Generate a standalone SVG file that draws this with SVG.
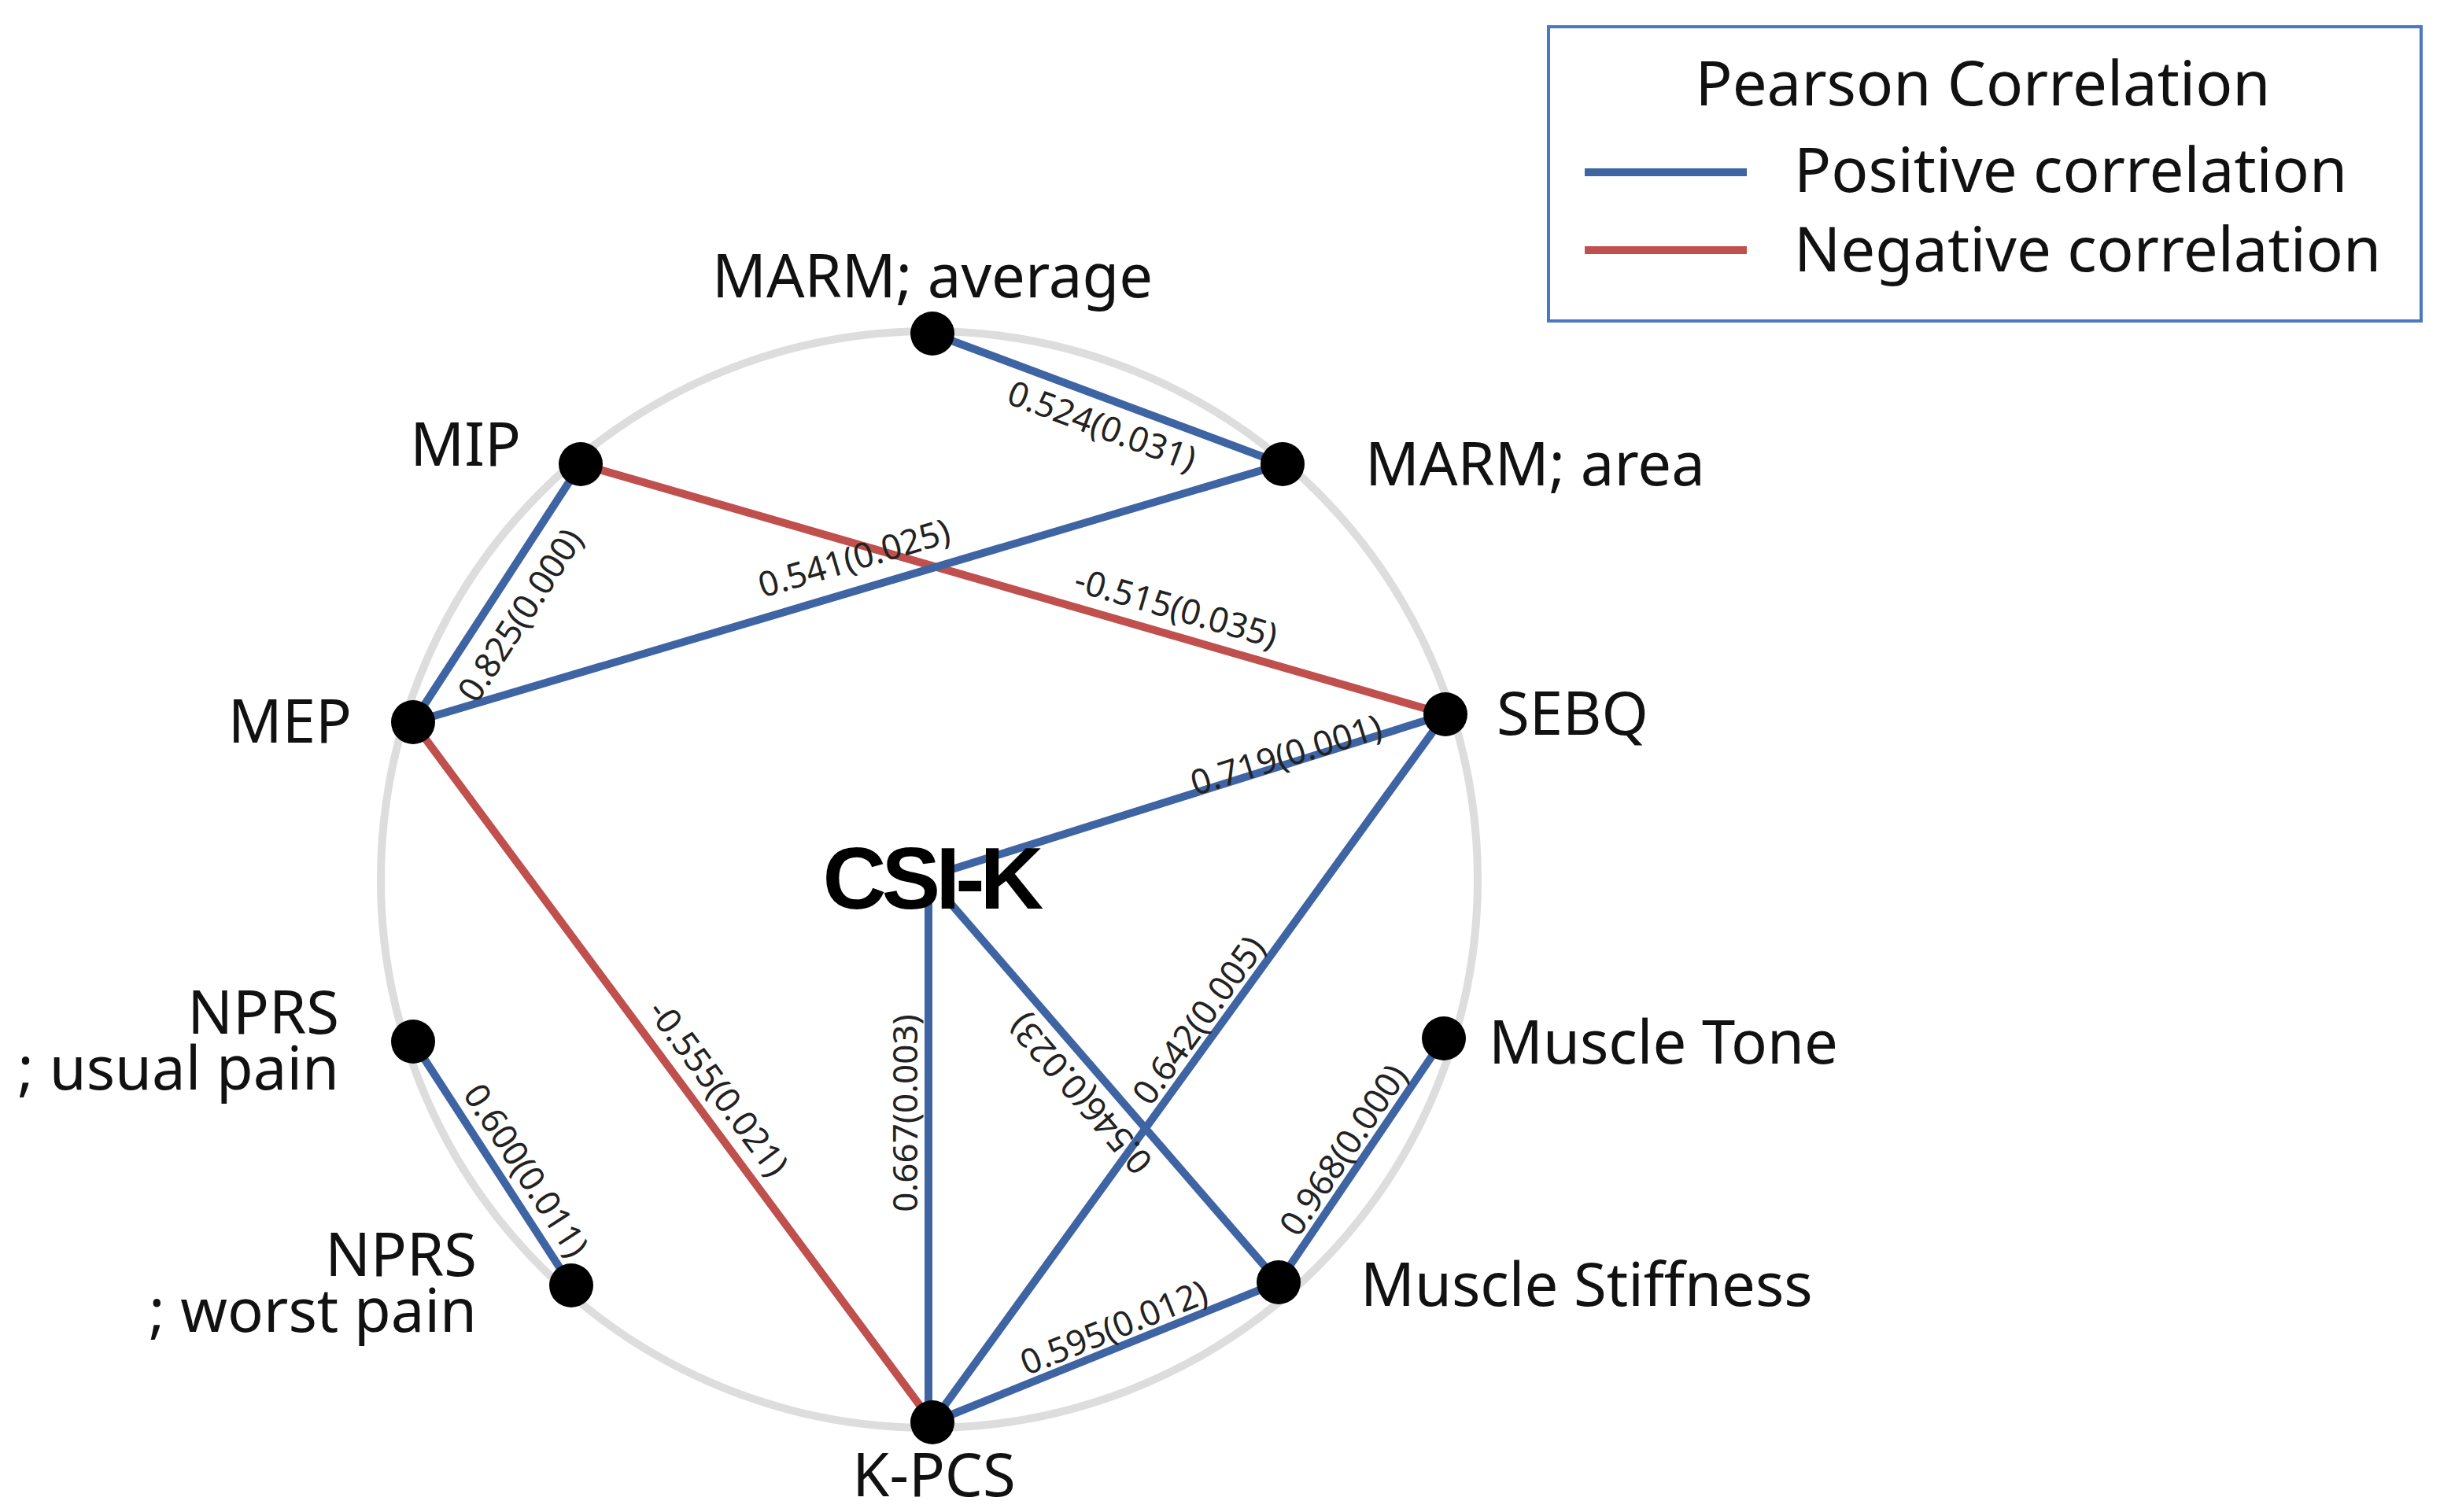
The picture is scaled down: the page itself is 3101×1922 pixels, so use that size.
<svg xmlns="http://www.w3.org/2000/svg" width="3101" height="1922" viewBox="0 0 3101 1922">
<style>
.lbl{font-family:"Noto Sans","Open Sans",sans-serif;font-size:76px;fill:#111}
.leg{font-family:"Noto Sans","Open Sans",sans-serif;font-size:78px;fill:#111}
.el{font-family:"Noto Sans","Open Sans",sans-serif;font-size:44px;fill:#222;text-anchor:middle;dominant-baseline:central}
.pos{stroke:#3f64a4;stroke-width:10;fill:none}
.neg{stroke:#c0504d;stroke-width:10;fill:none}
.dot{fill:#000}
</style>
<rect width="3101" height="1922" fill="#fff"/>
<circle cx="1181" cy="1118" r="697" fill="none" stroke="#bbb" stroke-width="10" opacity="0.5"/>
<circle cx="1181" cy="1118" r="695" fill="none" stroke="#ddd" stroke-width="4"/>
<g id="connectors">
<line class="pos" x1="1185" y1="424" x2="1630" y2="590"/>
<line class="neg" x1="738" y1="590" x2="1837" y2="908"/>
<line class="pos" x1="525" y1="918" x2="1630" y2="590"/>
<line class="pos" x1="738" y1="590" x2="525" y2="918"/>
<line class="pos" x1="1837" y1="908" x2="1210" y2="1105"/>
<line class="pos" x1="1837" y1="908" x2="1185" y2="1808"/>
<line class="pos" x1="1200" y1="1139" x2="1625" y2="1630"/>
<line class="pos" x1="1180" y1="1139" x2="1180" y2="1808"/>
<line class="neg" x1="525" y1="918" x2="1185" y2="1808"/>
<line class="pos" x1="525" y1="1324" x2="726" y2="1634"/>
<line class="pos" x1="1835" y1="1320" x2="1625" y2="1630"/>
<line class="pos" x1="1185" y1="1808" x2="1625" y2="1630"/>
<text class="el" transform="translate(1401,540) rotate(20.5)">0.524(0.031)</text>
<text class="el" transform="translate(1495,771) rotate(16.1)">-0.515(0.035)</text>
<text class="el" transform="translate(1085,708) rotate(-16.5)">0.541(0.025)</text>
<text class="el" transform="translate(660,781) rotate(-57)">0.825(0.000)</text>
<text class="el" transform="translate(1634,958) rotate(-17.2)">0.719(0.001)</text>
<text class="el" transform="translate(1522,1296) rotate(-54.1)">0.642(0.005)</text>
<text class="el" transform="translate(1372,1392) rotate(-130.9)">0.546(0.023)</text>
<text class="el" transform="translate(1149,1415) rotate(-90)">0.667(0.003)</text>
<text class="el" transform="translate(914,1382) rotate(53.4)">-0.555(0.021)</text>
<text class="el" transform="translate(670,1487) rotate(57)">0.600(0.011)</text>
<text class="el" transform="translate(1706,1461) rotate(-55.9)">0.968(0.000)</text>
<text class="el" transform="translate(1415,1686) rotate(-22)">0.595(0.012)</text>
</g>
<g id="csik"><text x="1183" y="1155" text-anchor="middle" style="font-family:'Liberation Sans',sans-serif;font-weight:bold;font-size:112px;letter-spacing:-6px;fill:#000">CSI-K</text></g>
<g id="marm-avg"><circle class="dot" cx="1185" cy="424" r="28"/><text class="lbl" x="1185" y="378" text-anchor="middle">MARM; average</text></g>
<g id="marm-area"><circle class="dot" cx="1630" cy="590" r="28"/><text class="lbl" x="1735" y="617">MARM; area</text></g>
<g id="mip"><circle class="dot" cx="738" cy="590" r="28"/><text class="lbl" x="662" y="592" text-anchor="end">MIP</text></g>
<g id="sebq"><circle class="dot" cx="1837" cy="908" r="28"/><text class="lbl" x="1902" y="934">SEBQ</text></g>
<g id="mep"><circle class="dot" cx="525" cy="918" r="28"/><text class="lbl" x="447" y="944" text-anchor="end">MEP</text></g>
<g id="nprs-usual"><circle class="dot" cx="525" cy="1324" r="28"/><text class="lbl" x="431" y="1314" text-anchor="end">NPRS</text><text class="lbl" x="431" y="1385" text-anchor="end">; usual pain</text></g>
<g id="muscle-tone"><circle class="dot" cx="1835" cy="1320" r="28"/><text class="lbl" x="1892" y="1352">Muscle Tone</text></g>
<g id="nprs-worst"><circle class="dot" cx="726" cy="1634" r="28"/><text class="lbl" x="606" y="1622" text-anchor="end">NPRS</text><text class="lbl" x="606" y="1693" text-anchor="end">; worst pain</text></g>
<g id="muscle-stiffness"><circle class="dot" cx="1625" cy="1630" r="28"/><text class="lbl" x="1729" y="1660">Muscle Stiffness</text></g>
<g id="kpcs"><circle class="dot" cx="1185" cy="1808" r="28"/><text class="lbl" x="1187" y="1902" text-anchor="middle">K-PCS</text></g>
<g id="legend">
<rect x="1968" y="34" width="1109" height="374" fill="#fff" stroke="#4a78c2" stroke-width="4"/>
<text class="leg" x="2520" y="134" text-anchor="middle">Pearson Correlation</text>
<line class="pos" x1="2014" y1="219" x2="2220" y2="219"/>
<line class="neg" x1="2014" y1="318" x2="2220" y2="318"/>
<text class="leg" x="2280" y="244">Positive correlation</text>
<text class="leg" x="2280" y="345">Negative correlation</text>
</g>
</svg>
